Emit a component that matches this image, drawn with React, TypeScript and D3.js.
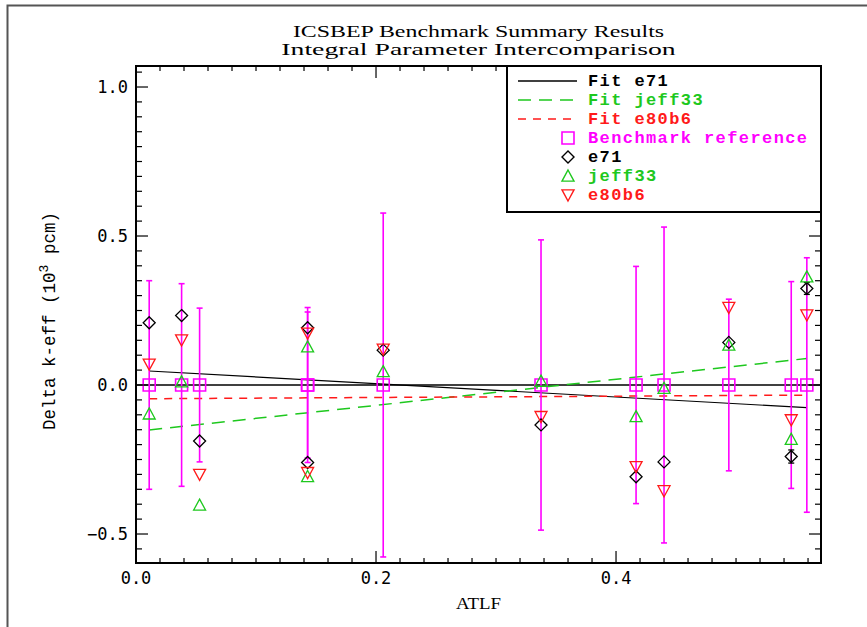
import React from "react";
import * as d3 from "d3";

// ---- data ----
const atlf = [0.011, 0.038, 0.053, 0.143, 0.143, 0.206, 0.3375, 0.4167, 0.44, 0.494, 0.546, 0.559];
const refUnc = [0.35, 0.34, 0.258, 0.26, 0.245, 0.577, 0.487, 0.398, 0.53, 0.288, 0.347, 0.427];
const e71 = [0.209, 0.233, -0.188, 0.192, -0.26, 0.117, -0.134, -0.308, -0.258, 0.143, -0.24, 0.324];
const e71Unc = [0, 0, 0, 0, 0, 0, 0, 0, 0, 0, 0.022, 0.02];
const jeff33 = [-0.097, 0.011, -0.403, 0.128, -0.307, 0.045, 0.013, -0.106, -0.011, 0.134, -0.182, 0.363];
const e80b6 = [0.07, 0.151, -0.3, 0.174, -0.294, 0.12, -0.106, -0.274, -0.355, 0.26, -0.117, 0.235];
// fit lines: values at the first and last ATLF
const fitX = [0.011, 0.559];
const fitE71 = [0.047, -0.076];
const fitJeff33 = [-0.151, 0.089];
const fitE80b6 = [-0.046, -0.034];

const xTicks = [0.0, 0.2, 0.4];
const yTicks = [-0.5, 0.0, 0.5, 1.0];
const titleLines = ["ICSBEP Benchmark Summary Results", "Integral Parameter Intercomparison"];

const W = 867, H = 627;
const L = 136, R = 821, T = 66, B = 563;
const MAGENTA = "#ff00ff", GREEN = "#1ec81e", RED = "#ff1a1a", BLACK = "#000";

export default function App() {
  const x = d3.scaleLinear().domain([0, 0.5708]).range([L, R]);
  const y = d3.scaleLinear().domain([-0.5973, 1.0705]).range([B, T]);
  const line = d3.line<[number, number]>().x(d => x(d[0])).y(d => y(d[1]));

  const xMinor = d3.range(0, 0.571, 0.02);
  const yMinor = d3.range(-0.55, 1.06, 0.05);

  const sq = 6, dm = 6, tr = 6;
  const diamond = (cx: number, cy: number) => `M${cx},${cy - dm}L${cx + dm},${cy}L${cx},${cy + dm}L${cx - dm},${cy}Z`;
  const up = (cx: number, cy: number) => `M${cx},${cy - tr}L${cx + tr},${cy + tr * 0.85}L${cx - tr},${cy + tr * 0.85}Z`;
  const down = (cx: number, cy: number) => `M${cx},${cy + tr}L${cx + tr},${cy - tr * 0.85}L${cx - tr},${cy - tr * 0.85}Z`;
  const square = (cx: number, cy: number) => `M${cx - sq},${cy - sq}h${2 * sq}v${2 * sq}h${-2 * sq}Z`;

  const mono = "'Liberation Mono', 'DejaVu Sans Mono', monospace";
  const serif = "'Liberation Serif', 'DejaVu Serif', serif";
  const sans = "'DejaVu Sans Mono', monospace";

  const legendRows = [
    { kind: "line", color: BLACK, dash: "", label: "Fit e71" },
    { kind: "line", color: GREEN, dash: "13,8", label: "Fit jeff33" },
    { kind: "line", color: RED, dash: "8,7", label: "Fit e80b6" },
    { kind: "square", color: MAGENTA, label: "Benchmark reference" },
    { kind: "diamond", color: BLACK, label: "e71" },
    { kind: "up", color: GREEN, label: "jeff33" },
    { kind: "down", color: RED, label: "e80b6" },
  ];

  return (
    <svg width={W} height={H} style={{ position: "absolute", left: 0, top: 0, background: "#fff" }}>
      {/* page border */}
      <path d={`M7.5,${H}V5.5H${W}`} fill="none" stroke="#555" strokeWidth={2} />

      {/* titles */}
      {titleLines.map((t, i) => (
        <text key={t} x={(L + R) / 2} y={37 + i * 18} textAnchor="middle" fontFamily={serif} fontSize={17}
          textLength={t.length * 11.6} lengthAdjust="spacingAndGlyphs">{t}</text>
      ))}

      {/* fit lines & zero line */}
      <line x1={L} x2={R} y1={y(0)} y2={y(0)} stroke={BLACK} strokeWidth={1.3} />
      <path d={line(fitX.map((v, i) => [v, fitE71[i]]) as any)!} stroke={BLACK} strokeWidth={1.2} fill="none" />
      <path d={line(fitX.map((v, i) => [v, fitJeff33[i]]) as any)!} stroke={GREEN} strokeWidth={1.5} strokeDasharray="13,8" fill="none" />
      <path d={line(fitX.map((v, i) => [v, fitE80b6[i]]) as any)!} stroke={RED} strokeWidth={1.5} strokeDasharray="8,7" fill="none" />

      {/* reference error bars */}
      {atlf.map((a, i) => {
        const cx = x(a);
        return (
          <g key={"eb" + i} stroke={MAGENTA} strokeWidth={1.6}>
            <line x1={cx} x2={cx} y1={y(refUnc[i])} y2={y(-refUnc[i])} />
            <line x1={cx - 3} x2={cx + 3} y1={y(refUnc[i])} y2={y(refUnc[i])} />
            <line x1={cx - 3} x2={cx + 3} y1={y(-refUnc[i])} y2={y(-refUnc[i])} />
          </g>
        );
      })}
      {/* reference squares */}
      {atlf.map((a, i) => (
        <path key={"sq" + i} d={square(x(a), y(0))} fill="none" stroke={MAGENTA} strokeWidth={1.6} />
      ))}
      {/* e71 error bars */}
      {atlf.map((a, i) => e71Unc[i] > 0 ? (
        <g key={"e71e" + i} stroke={BLACK} strokeWidth={1.3}>
          <line x1={x(a)} x2={x(a)} y1={y(e71[i] + e71Unc[i])} y2={y(e71[i] - e71Unc[i])} />
          <line x1={x(a) - 3} x2={x(a) + 3} y1={y(e71[i] + e71Unc[i])} y2={y(e71[i] + e71Unc[i])} />
          <line x1={x(a) - 3} x2={x(a) + 3} y1={y(e71[i] - e71Unc[i])} y2={y(e71[i] - e71Unc[i])} />
        </g>
      ) : null)}
      {atlf.map((a, i) => (
        <path key={"dm" + i} d={diamond(x(a), y(e71[i]))} fill="none" stroke={BLACK} strokeWidth={1.3} />
      ))}
      {atlf.map((a, i) => (
        <path key={"up" + i} d={up(x(a), y(jeff33[i]))} fill="none" stroke={GREEN} strokeWidth={1.3} />
      ))}
      {atlf.map((a, i) => (
        <path key={"dn" + i} d={down(x(a), y(e80b6[i]))} fill="none" stroke={RED} strokeWidth={1.3} />
      ))}

      {/* axes frame */}
      <rect x={L} y={T} width={R - L} height={B - T} fill="none" stroke={BLACK} strokeWidth={2} />
      {/* x ticks */}
      {xMinor.map((v, i) => {
        const major = xTicks.some(t => Math.abs(t - v) < 1e-6);
        const len = major ? 12 : 5;
        return (
          <g key={"xt" + i} stroke={BLACK} strokeWidth={1.2}>
            <line x1={x(v)} x2={x(v)} y1={B} y2={B - len} />
            <line x1={x(v)} x2={x(v)} y1={T} y2={T + len} />
          </g>
        );
      })}
      {xTicks.map(v => (
        <text key={"xl" + v} x={x(v)} y={584} textAnchor="middle" fontFamily={sans} fontSize={17}>{v.toFixed(1)}</text>
      ))}
      {/* y ticks */}
      {yMinor.map((v, i) => {
        const major = yTicks.some(t => Math.abs(t - v) < 1e-6);
        const len = major ? 12 : 6;
        return (
          <g key={"yt" + i} stroke={BLACK} strokeWidth={1.2}>
            <line x1={L} x2={L + len} y1={y(v)} y2={y(v)} />
            <line x1={R} x2={R - len} y1={y(v)} y2={y(v)} />
          </g>
        );
      })}
      {yTicks.map(v => (
        <text key={"yl" + v} x={128} y={y(v)} dy="0.36em" textAnchor="end" fontFamily={sans} fontSize={17}>{v < 0 ? "\u2212" + Math.abs(v).toFixed(1) : v.toFixed(1)}</text>
      ))}

      {/* axis labels */}
      <text x={(L + R) / 2} y={609} textAnchor="middle" fontFamily={serif} fontSize={17}
        textLength={45} lengthAdjust="spacingAndGlyphs">ATLF</text>
      <text transform={`translate(55,${321}) rotate(-90)`} textAnchor="middle" fontFamily={mono} fontSize={17.5}>
        Delta k-eff (10<tspan dy={-7} fontSize={13}>3</tspan><tspan dy={7}> pcm)</tspan>
      </text>

      {/* legend */}
      <rect x={507} y={T} width={R - 507} height={146} fill="#fff" stroke={BLACK} strokeWidth={2} />
      {legendRows.map((r, i) => {
        const cy = 81 + i * 19;
        let mark: React.ReactNode = null;
        if (r.kind === "line") mark = <line x1={518} x2={577} y1={cy} y2={cy} stroke={r.color} strokeWidth={1.5} strokeDasharray={r.dash || undefined} />;
        else if (r.kind === "square") mark = <path d={square(568, cy)} fill="none" stroke={r.color} strokeWidth={1.6} />;
        else if (r.kind === "diamond") mark = <path d={diamond(568, cy)} fill="none" stroke={r.color} strokeWidth={1.4} />;
        else if (r.kind === "up") mark = <path d={up(568, cy)} fill="none" stroke={r.color} strokeWidth={1.4} />;
        else mark = <path d={down(568, cy)} fill="none" stroke={r.color} strokeWidth={1.4} />;
        return (
          <g key={"lg" + i}>
            {mark}
            <text x={588} y={cy + 5} fontFamily={mono} fontWeight="bold" fontSize={17} letterSpacing={1.4} fill={r.color}>{r.label}</text>
          </g>
        );
      })}
    </svg>
  );
}
